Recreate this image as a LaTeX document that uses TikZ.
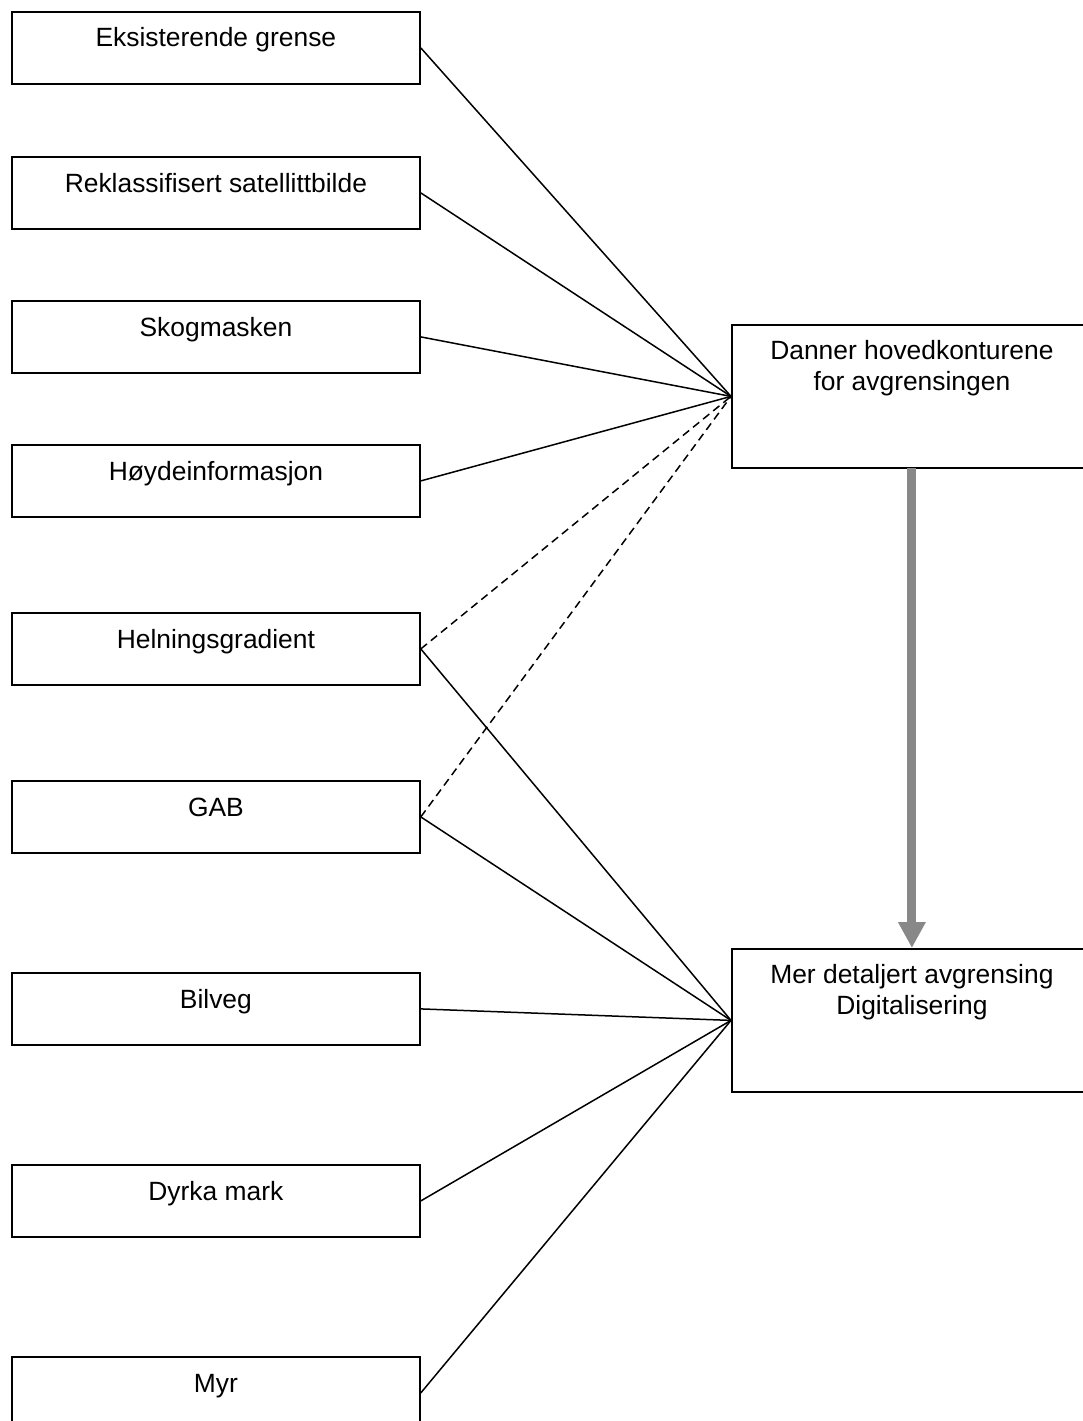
\documentclass[tikz,border=0pt]{standalone}
\usepackage{fontspec}
\setmainfont{Liberation Sans}
\usetikzlibrary{arrows.meta}
\definecolor{arrowgray}{RGB}{136,136,136}
\begin{document}
\begin{tikzpicture}[x=1pt,y=-1pt,
  inbox/.style={draw=black, line width=1.8pt, minimum width=408pt, minimum height=72pt, inner sep=0pt, anchor=north west},
  outbox/.style={draw=black, line width=1.8pt, minimum width=360pt, minimum height=143pt, inner sep=0pt, anchor=north west},
  lbl/.style={anchor=base, inner sep=0pt, align=center, font=\fontsize{26.4pt}{30.8pt}\selectfont},
  conn/.style={line width=1.5pt, black},
  dconn/.style={line width=1.5pt, black, dash pattern=on 8pt off 5pt},
  bigarrow/.style={line width=9pt, arrowgray, -{Triangle[width=26pt,length=26pt]}}
]
\useasboundingbox (0,0) rectangle (1082,1421);
% left boxes
\node[inbox] (b1) at (11,11) {};
\node[inbox] (b2) at (11,156) {};
\node[inbox] (b3) at (11,300) {};
\node[inbox] (b4) at (11,444) {};
\node[inbox] (b5) at (11,612) {};
\node[inbox] (b6) at (11,780) {};
\node[inbox] (b7) at (11,972) {};
\node[inbox] (b8) at (11,1164) {};
\node[inbox] (b9) at (11,1356) {};
\node[lbl] (t1) at ([yshift=-36pt]b1.north) {Eksisterende grense};
\node[lbl] (t2) at ([yshift=-36pt]b2.north) {Reklassifisert satellittbilde};
\node[lbl] (t3) at ([yshift=-36pt]b3.north) {Skogmasken};
\node[lbl] (t4) at ([yshift=-36pt]b4.north) {Høydeinformasjon};
\node[lbl] (t5) at ([yshift=-36pt]b5.north) {Helningsgradient};
\node[lbl] (t6) at ([yshift=-36pt]b6.north) {GAB};
\node[lbl] (t7) at ([yshift=-36pt]b7.north) {Bilveg};
\node[lbl] (t8) at ([yshift=-36pt]b8.north) {Dyrka mark};
\node[lbl] (t9) at ([yshift=-36pt]b9.north) {Myr};
% right boxes
\node[outbox] (r1) at (731,324) {};
\node[outbox] (r2) at (731,948) {};
\node[lbl] (tr1) at ([yshift=-66pt]r1.north) {Danner hovedkonturene\\for avgrensingen};
\node[lbl] (tr2) at ([yshift=-66pt]r2.north) {Mer detaljert avgrensing\\Digitalisering};
% connectors to upper box
\draw[conn] (b1.east) -- (r1.west);
\draw[conn] (b2.east) -- (r1.west);
\draw[conn] (b3.east) -- (r1.west);
\draw[conn] (b4.east) -- (r1.west);
\draw[dconn] (b5.east) -- (r1.west);
\draw[dconn] (b6.east) -- (r1.west);
% connectors to lower box
\draw[conn] (b5.east) -- (r2.west);
\draw[conn] (b6.east) -- (r2.west);
\draw[conn] (b7.east) -- (r2.west);
\draw[conn] (b8.east) -- (r2.west);
\draw[conn] (b9.east) -- (r2.west);
% big gray arrow
\draw[bigarrow] ([yshift=1pt]r1.south) -- (r2.north);
\end{tikzpicture}
\end{document}
